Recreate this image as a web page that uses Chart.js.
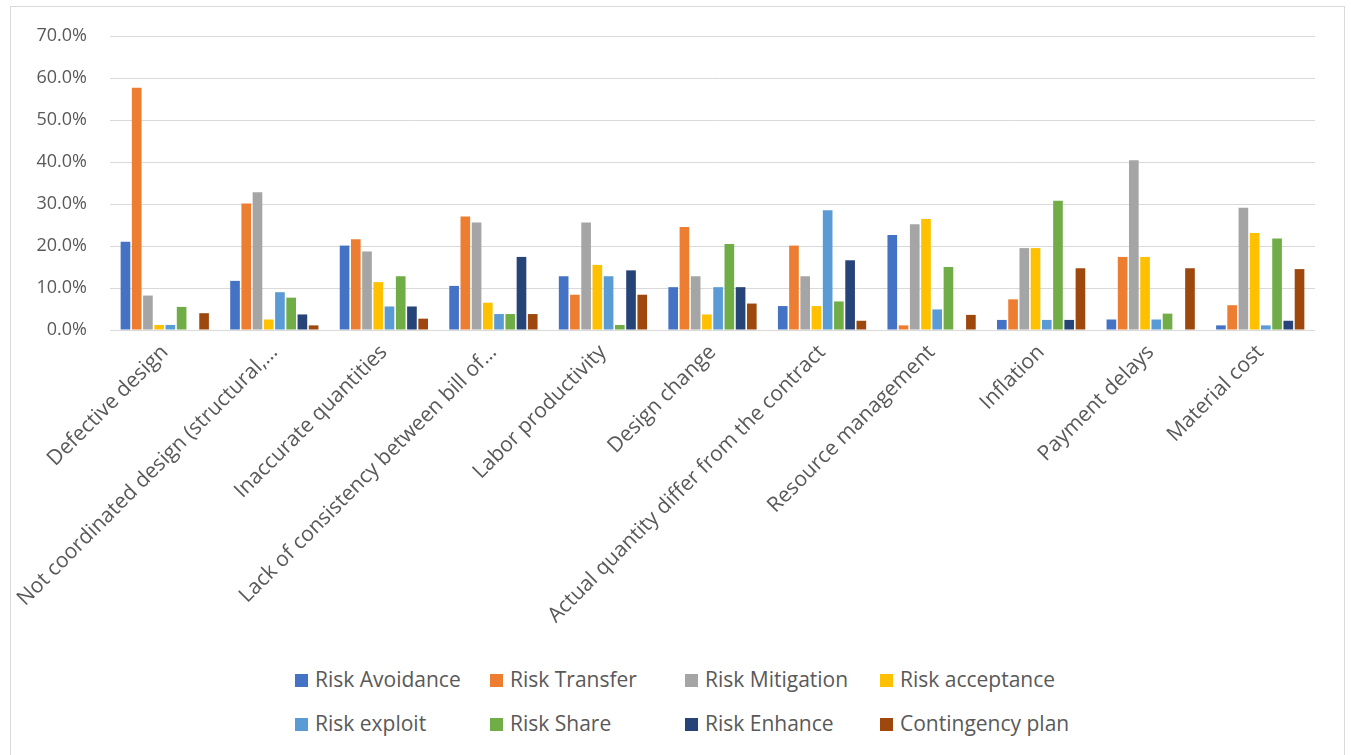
<!DOCTYPE html>
<html lang="en">
  <head>
    <meta charset="UTF-8" />
    <title>Risk response by risk factor</title>
    <script src="https://cdn.jsdelivr.net/npm/chart.js"></script>
    <style>
      body {
        margin: 0;
        background: #fff;
        font-family: "Open Sans", sans-serif;
        overflow: hidden;
      }
      .frame {
        position: absolute;
        left: 10px;
        top: 6px;
        width: 1333px;
        height: 800px;
        border: 1px solid #d9d9d9;
      }
      .chart-box {
        position: absolute;
        left: 0;
        top: 0;
        width: 1351px;
        height: 650px;
      }
      .legend {
        position: absolute;
        left: 295px;
        top: 666px;
        display: grid;
        grid-template-columns: repeat(4, 195px);
        row-gap: 18px;
        color: #595959;
        font-size: 21px;
      }
      .legend span.item {
        display: flex;
        align-items: center;
        height: 26px;
        white-space: nowrap;
      }
      .legend i {
        display: inline-block;
        width: 13px;
        height: 13px;
        margin-right: 7px;
        margin-top: 3px;
      }
    </style>
  </head>
  <body>
    <div class="frame"></div>
    <div class="chart-box"><canvas id="barChart"></canvas></div>
    <div class="legend" id="legend"></div>

    <script>
      const categories = [
        "Defective design",
        "Not coordinated design (structural,…",
        "Inaccurate quantities",
        "Lack of consistency between bill of…",
        "Labor productivity",
        "Design change",
        "Actual quantity differ from the contract",
        "Resource management",
        "Inflation",
        "Payment delays",
        "Material cost"
      ];

      const seriesNames = [
        "Risk Avoidance", "Risk Transfer", "Risk Mitigation", "Risk acceptance",
        "Risk exploit", "Risk Share", "Risk Enhance", "Contingency plan"
      ];
      const colors = ["#4472C4", "#ED7D31", "#A5A5A5", "#FFC000", "#5B9BD5", "#70AD47", "#264478", "#9E480E"];

      // percent values, one entry per category
      const riskAvoidance   = [21.0, 11.7, 20.1, 10.5, 12.8, 10.2,  5.7, 22.6,  2.4,  2.5,  1.1];
      const riskTransfer    = [57.7, 30.1, 21.6, 27.0,  8.4, 24.5, 20.1,  1.1,  7.3, 17.4,  5.9];
      const riskMitigation  = [ 8.2, 32.8, 18.7, 25.6, 25.6, 12.8, 12.8, 25.2, 19.5, 40.4, 29.1];
      const riskAcceptance  = [ 1.2,  2.5, 11.4,  6.5, 15.5,  3.7,  5.7, 26.4, 19.5, 17.4, 23.1];
      const riskExploit     = [ 1.2,  9.0,  5.6,  3.8, 12.8, 10.2, 28.5,  4.9,  2.4,  2.5,  1.1];
      const riskShare       = [ 5.5,  7.7, 12.8,  3.8,  1.2, 20.5,  6.8, 15.0, 30.8,  3.9, 21.8];
      const riskEnhance     = [ 0.0,  3.7,  5.6, 17.4, 14.2, 10.2, 16.6,  0.0,  2.4,  0.0,  2.2];
      const contingencyPlan = [ 4.0,  1.1,  2.7,  3.8,  8.4,  6.3,  2.2,  3.6, 14.7, 14.7, 14.5];

      const seriesValues = [
        riskAvoidance, riskTransfer, riskMitigation, riskAcceptance,
        riskExploit, riskShare, riskEnhance, contingencyPlan
      ];

      const yTicks = [0, 10, 20, 30, 40, 50, 60, 70];

      const datasets = seriesNames.map((name, i) => ({
        label: name,
        data: seriesValues[i],
        backgroundColor: colors[i],
        categoryPercentage: 0.82,
        barPercentage: 0.86
      }));

      const chart = new Chart(document.getElementById("barChart"), {
        type: "bar",
        data: { labels: categories, datasets: datasets },
        options: {
          responsive: true,
          maintainAspectRatio: false,
          animation: false,
          layout: { padding: { top: 36, right: 36, left: 0, bottom: 0 } },
          plugins: {
            legend: { display: false },
            tooltip: { enabled: false }
          },
          scales: {
            x: {
              grid: { display: false, drawTicks: false },
              border: { display: false },
              ticks: {
                color: "#595959",
                font: { family: "Open Sans", size: 21 },
                maxRotation: 45,
                minRotation: 45,
                autoSkip: false,
                padding: 10
              },
              afterFit: (scale) => { scale.height = 320; }
            },
            y: {
              min: 0,
              max: 70,
              afterBuildTicks: (scale) => { scale.ticks = yTicks.map(v => ({ value: v })); },
              grid: { color: "#d9d9d9", lineWidth: 1, drawTicks: false },
              border: { display: false },
              ticks: {
                color: "#595959",
                font: { family: "Open Sans", size: 18 },
                padding: 23,
                callback: (v) => v.toFixed(1) + "%"
              },
              afterFit: (scale) => { scale.width = 110; }
            }
          }
        }
      });

      const legend = document.getElementById("legend");
      chart.data.datasets.forEach((ds) => {
        const item = document.createElement("span");
        item.className = "item";
        item.innerHTML = '<i style="background:' + ds.backgroundColor + '"></i>' + ds.label;
        legend.appendChild(item);
      });
    </script>
  </body>
</html>
